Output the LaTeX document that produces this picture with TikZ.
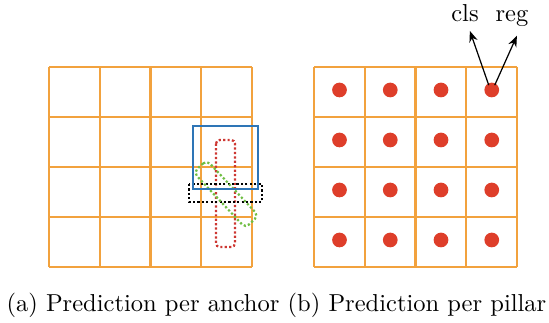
\documentclass[tikz,border=0pt]{standalone}
\usetikzlibrary{arrows.meta}

\definecolor{gridorange}{RGB}{242,162,62}
\definecolor{dotred}{RGB}{222,62,42}
\definecolor{boxblue}{RGB}{46,117,182}
\definecolor{boxred}{RGB}{205,55,50}
\definecolor{boxgreen}{RGB}{112,190,68}

\tikzset{
    grid line/.style={gridorange, line width=0.9pt},
    anchor box/.style={line width=0.9pt, dash pattern=on 0.9pt off 0.9pt, line cap=butt},
    pillar dot/.style={circle, fill=dotred, inner sep=0pt, minimum size=6pt},
    head arrow/.style={-{Stealth[length=4.5pt,width=3.5pt]}, line width=0.5pt},
}

\begin{document}
\begin{tikzpicture}[x=0.408pt, y=-0.408pt]

    \useasboundingbox (0,0) rectangle (549,323);

    % Cell size of both grids
    \pgfmathsetmacro{\cw}{50.75}
    \pgfmathsetmacro{\ch}{50}

    % (a) grid with anchors
    \foreach \i in {0,...,4} {
        \draw[grid line] ({49+\i*\cw},67) -- ({49+\i*\cw},267);
        \draw[grid line] (49,{67+\i*\ch}) -- (252,{67+\i*\ch});
    }

    % Anchors of different orientation
    \draw[boxred, anchor box, rounded corners=1.5pt] (216,140) rectangle (235,247);
    \draw[black, anchor box] (189,184) rectangle (262,202);
    \draw[boxgreen, anchor box, rounded corners=2pt, rotate around={-47:(226,194)}]
        (188,185) rectangle (264,203);

    % Ground truth box
    \draw[boxblue, line width=1.1pt] (193,126) rectangle (258,189);

    % (b) grid with one prediction per pillar
    \foreach \i in {0,...,4} {
        \draw[grid line] ({314+\i*\cw},67) -- ({314+\i*\cw},267);
        \draw[grid line] (314,{67+\i*\ch}) -- (517,{67+\i*\ch});
    }
    \foreach \c in {0,...,3} {
        \foreach \r in {0,...,3} {
            \node[pillar dot] (d-\c-\r) at ({339.5+\c*\cw},{90+\r*\ch}) {};
        }
    }

    % Heads of the top-right pillar
    \node[anchor=base] (cls) at (465,22) {cls};
    \node[anchor=base] (reg) at (512,22) {reg};
    \draw[head arrow] (d-3-0.north) ++(-3,3) -- ([xshift=2pt]cls.south);
    \draw[head arrow] (d-3-0.north) ++(3,3) -- ([xshift=2pt]reg.south);

    % Captions
    \node[anchor=base] (capa) at (143,312) {(a) Prediction per anchor};
    \node[anchor=base] (capb) at (417,312) {(b) Prediction per pillar};

\end{tikzpicture}
\end{document}
